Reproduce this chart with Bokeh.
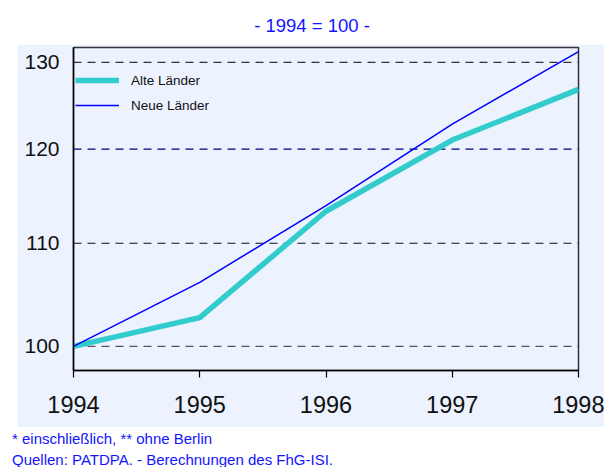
from bokeh.plotting import figure
from bokeh.layouts import column, row
from bokeh.models import (Range1d, FixedTicker, Span, Legend, LegendItem,
                          BasicTickFormatter, Div, Spacer)
from bokeh.embed import file_html
from bokeh.resources import INLINE

# ---- data ----
years = [1994, 1995, 1996, 1997, 1998]
alte_laender = [100.0, 102.7, 113.3, 121.0, 126.8]
neue_laender = [100.0, 106.1, 113.9, 122.8, 131.3]
series_names = ["Alte Länder", "Neue Länder"]
y_ticks = [100, 110, 120, 130]
y_tick_labels = ["100", "110", "120", "130"]
x_tick_labels = ["1994", "1995", "1996", "1997", "1998"]
subtitle = "- 1994 = 100 -"
footnotes = ["* einschließlich, ** ohne Berlin",
             "Quellen: PATDPA. - Berechnungen des FhG-ISI."]

# ---- styles ----
BG = "#ECF2FE"
grid_colors = ["#555555", "#111111", "#000080", "#333333"]
TEXT_BLUE = "#1414FF"

p = figure(width=587, height=383,
           x_range=Range1d(1994, 1998), y_range=Range1d(97.8, 131.8),
           y_axis_type="log", output_backend="svg", toolbar_location=None,
           min_border_left=56, min_border_right=26, min_border_top=3,
           min_border_bottom=57, background_fill_color=BG,
           border_fill_color=BG, margin=0)

p.outline_line_color = "#333333"
p.outline_line_width = 1.5
p.xgrid.visible = False
p.ygrid.visible = False

for v, c in zip(y_ticks, grid_colors):
    p.add_layout(Span(location=v, dimension="width", line_color=c,
                      line_dash="8 6", line_width=1.2, level="underlay"))

# x axis
p.xaxis.ticker = FixedTicker(ticks=years)
p.xaxis.major_label_overrides = {y: l for y, l in zip(years, x_tick_labels)}
p.xaxis.major_tick_out = 7
p.xaxis.major_tick_in = 0
p.xaxis.minor_tick_out = 0
p.xaxis.minor_tick_in = 0
p.xaxis.axis_line_width = 1.5
p.xaxis.major_tick_line_width = 1.2
p.xaxis.major_label_text_font = "Liberation Sans"
p.xaxis.major_label_text_font_size = "23.5px"
p.xaxis.major_label_text_color = "#111111"
p.xaxis.major_label_standoff = 18

# y axis
p.yaxis.ticker = FixedTicker(ticks=y_ticks)
p.yaxis.formatter = BasicTickFormatter()
p.yaxis.major_label_overrides = {v: l for v, l in zip(y_ticks, y_tick_labels)}
p.yaxis.major_tick_out = 0
p.yaxis.major_tick_in = 0
p.yaxis.minor_tick_out = 0
p.yaxis.minor_tick_in = 0
p.yaxis.axis_line_width = 1.5
p.yaxis.major_label_text_font = "Liberation Sans"
p.yaxis.major_label_text_font_size = "21px"
p.yaxis.major_label_text_color = "#111111"
p.yaxis.major_label_standoff = 14

r1 = p.line(years, alte_laender, line_color="#33CCCC", line_width=5.5)
r2 = p.line(years, neue_laender, line_color="#0000FF", line_width=1.5)

legend = Legend(items=[LegendItem(label=series_names[0], renderers=[r1]),
                       LegendItem(label=series_names[1], renderers=[r2])],
                location=(2, 255), padding=0, margin=0, spacing=5,
                glyph_width=44, glyph_height=20, label_height=20,
                label_standoff=12, label_text_font="Liberation Sans",
                label_text_font_size="13.5px", label_text_color="#111111",
                background_fill_alpha=0, border_line_color=None)
p.add_layout(legend)

title_div = Div(
    text=('<div style="box-sizing:border-box;width:604px;padding-left:20px;'
          'padding-top:17px;text-align:center;font-family:\'Liberation Sans\';'
          'font-size:18.5px;line-height:18px;color:%s">%s</div>')
         % (TEXT_BLUE, subtitle),
    width=604, height=44, margin=0)

foot_div = Div(
    text=('<div style="padding-left:12px;padding-top:1px;'
          'font-family:\'Liberation Sans\';font-size:15px;line-height:21px;'
          'color:%s;white-space:nowrap">%s<br>%s</div>')
         % (TEXT_BLUE, footnotes[0], footnotes[1]),
    width=604, height=40, margin=0)

layout = column(title_div,
                row(Spacer(width=17, height=383, margin=0), p, spacing=0, margin=0),
                foot_div, spacing=0, margin=0)

open("out.html", "w").write(file_html(layout, INLINE))
